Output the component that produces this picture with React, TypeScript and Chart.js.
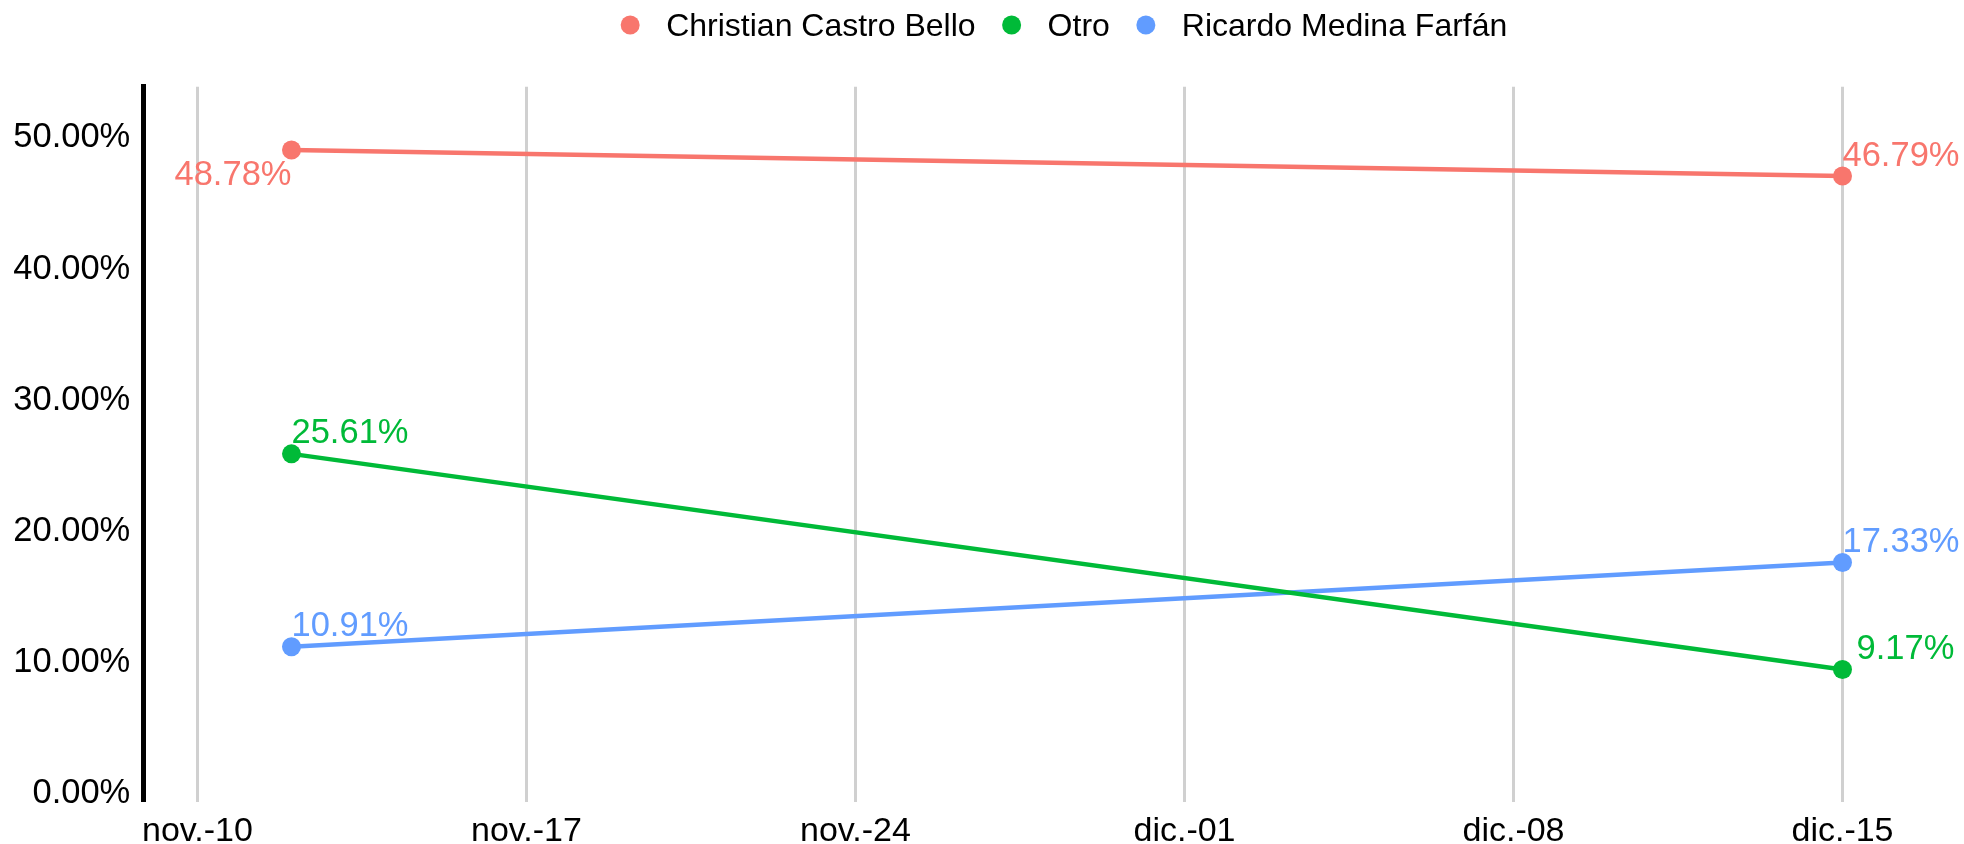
import React, { useEffect, useRef } from "react";
import { Chart, registerables } from "chart.js";

Chart.register(...registerables);

// ---- data ----
const SERIES_NAMES = ["Christian Castro Bello", "Otro", "Ricardo Medina Farfán"];
const SERIES_COLORS = ["#F8766D", "#00BA38", "#619CFF"];
// days since 10 Nov
const POINT_DAYS = [2, 35];
const CHRISTIAN = [48.78, 46.79];
const OTRO = [25.61, 9.17];
const RICARDO = [10.91, 17.33];
const Y_TICKS = [0, 10, 20, 30, 40, 50];
const X_TICK_DAYS = [0, 7, 14, 21, 28, 35];
const X_TICK_LABELS = ["nov.-10", "nov.-17", "nov.-24", "dic.-01", "dic.-08", "dic.-15"];

// label placement style per series / per point
const LABEL_STYLE = [
  [{ align: "right", dx: 0, dy: 35 }, { align: "left", dx: 0, dy: -10.5 }],
  [{ align: "left", dx: 0, dy: -10.5 }, { align: "left", dx: 14, dy: -10.5 }],
  [{ align: "left", dx: 0, dy: -10.5 }, { align: "left", dx: 0, dy: -10.5 }],
];

const FONT = '"Liberation Sans", Arial, Helvetica, sans-serif';
const W = 1964;
const H = 844;

const seriesValues = [CHRISTIAN, OTRO, RICARDO];

const dataLabelPlugin = {
  id: "dataLabels",
  afterDatasetsDraw(chart: any) {
    const ctx = chart.ctx;
    ctx.save();
    ctx.font = `34.5px ${FONT}`;
    ctx.textBaseline = "alphabetic";
    chart.data.datasets.forEach((ds: any, di: number) => {
      const meta = chart.getDatasetMeta(di);
      meta.data.forEach((pt: any, i: number) => {
        const st = LABEL_STYLE[di][i];
        const v = seriesValues[di][i];
        ctx.fillStyle = SERIES_COLORS[di];
        ctx.textAlign = st.align;
        ctx.fillText(`${v.toFixed(2)}%`, pt.x + st.dx, pt.y + st.dy);
      });
    });
    ctx.restore();
  },
};

const legendPlugin = {
  id: "customLegend",
  afterDraw(chart: any) {
    const ctx = chart.ctx;
    ctx.save();
    ctx.font = `32px ${FONT}`;
    const r = 9.5;
    const gap = 26.5;
    const widths = SERIES_NAMES.map((n) => ctx.measureText(n).width);
    const total =
      widths.reduce((a, b) => a + b, 0) + SERIES_NAMES.length * (2 * r + gap) + (SERIES_NAMES.length - 1) * gap;
    const centerX = 1064;
    const cy = 25;
    let x = centerX - total / 2;
    ctx.textBaseline = "middle";
    ctx.textAlign = "left";
    SERIES_NAMES.forEach((name, i) => {
      ctx.fillStyle = SERIES_COLORS[i];
      ctx.beginPath();
      ctx.arc(x + r, cy, r, 0, Math.PI * 2);
      ctx.fill();
      x += 2 * r + gap;
      ctx.fillStyle = "#000";
      ctx.fillText(name, x, cy + 2);
      x += widths[i] + gap;
    });
    ctx.restore();
  },
};

export default function App() {
  const ref = useRef<HTMLCanvasElement | null>(null);

  useEffect(() => {
    if (!ref.current) return;
    const datasets = SERIES_NAMES.map((name, i) => ({
      label: name,
      data: POINT_DAYS.map((d, j) => ({ x: d, y: seriesValues[i][j] })),
      borderColor: SERIES_COLORS[i],
      backgroundColor: SERIES_COLORS[i],
      pointBackgroundColor: SERIES_COLORS[i],
      pointBorderWidth: 0,
      pointRadius: 9.5,
      borderWidth: 4.5,
      tension: 0,
    }));

    const chart = new Chart(ref.current, {
      type: "line",
      data: { datasets },
      plugins: [dataLabelPlugin, legendPlugin],
      options: {
        responsive: false,
        animation: false,
        devicePixelRatio: 1,
        layout: { padding: { top: 86.7, right: 27.5, left: 0, bottom: 0 } },
        plugins: {
          legend: { display: false },
          tooltip: { enabled: false },
        },
        scales: {
          x: {
            type: "linear",
            min: -1.153,
            max: 37,
            afterFit(scale: any) {
              scale.height = H - 801.7;
            },
            afterBuildTicks(scale: any) {
              scale.ticks = X_TICK_DAYS.map((v) => ({ value: v }));
            },
            grid: { display: true, color: "#d0d0d0", lineWidth: 3, drawTicks: false },
            border: { display: false },
            ticks: {
              padding: 10,
              color: "#000",
              font: { family: FONT, size: 34 },
              maxRotation: 0,
              autoSkip: false,
              callback: (v: any) => {
                const idx = X_TICK_DAYS.indexOf(Number(v));
                return idx >= 0 ? X_TICK_LABELS[idx] : "";
              },
            },
          },
          y: {
            type: "linear",
            min: -0.907,
            max: 53.6,
            afterFit(scale: any) {
              scale.width = 143.3;
            },
            afterBuildTicks(scale: any) {
              scale.ticks = Y_TICKS.map((v) => ({ value: v }));
            },
            grid: { display: false, drawTicks: false },
            border: { display: true, color: "#000", width: 5 },
            ticks: {
              padding: 13,
              labelOffset: 4,
              color: "#000",
              font: { family: FONT, size: 34.5 },
              callback: (v: any) => `${Number(v).toFixed(2)}%`,
            },
          },
        },
      },
    });
    return () => chart.destroy();
  }, []);

  return (
    <div style={{ position: "absolute", left: 0, top: 0, width: W, height: H, background: "#fff" }}>
      <canvas ref={ref} width={W} height={H} style={{ width: W, height: H, display: "block" }} />
    </div>
  );
}
